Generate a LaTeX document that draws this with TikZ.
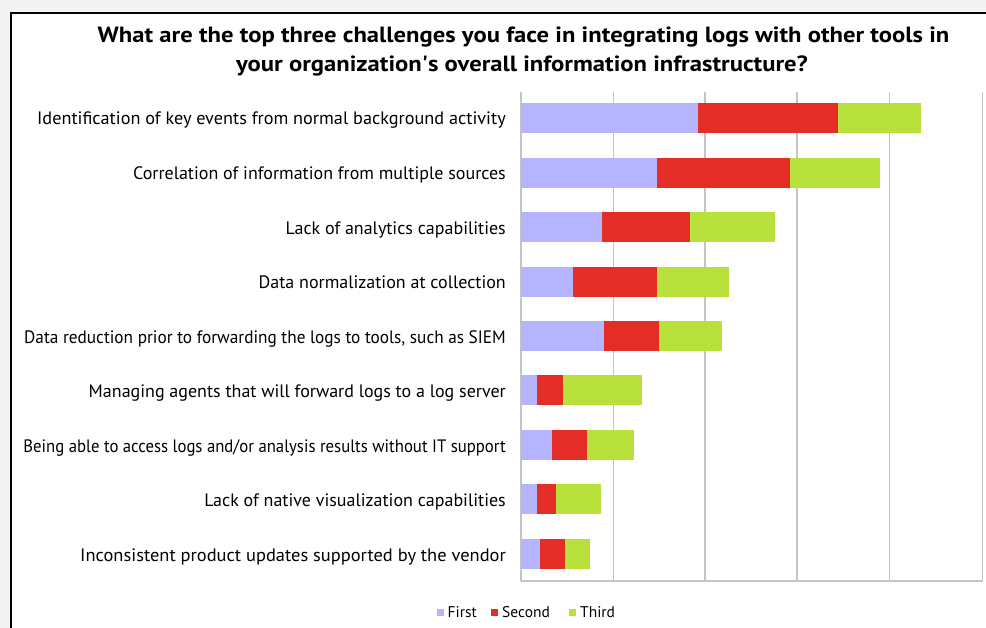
\documentclass[tikz,border=0pt]{standalone}
\usepackage{fontspec}
\setmainfont{PT Sans}
\definecolor{cfirst}{HTML}{B5B5FF}
\definecolor{csecond}{HTML}{E52D27}
\definecolor{cthird}{HTML}{B9E13B}
\definecolor{cgrid}{HTML}{C4C4C4}
\definecolor{cbg}{HTML}{F2F3F3}
\begin{document}
\begin{tikzpicture}[x=1pt,y=-1pt,
  lbl/.style={anchor=base east,inner sep=0pt,font=\fontsize{18}{20}\selectfont},
  ttl/.style={anchor=base,inner sep=0pt,font=\bfseries\fontsize{22}{26}\selectfont},
  grid/.style={draw=cgrid,line width=1.4pt},
  legsq/.style={inner sep=0pt,minimum size=7pt},
  legtx/.style={anchor=west,inner sep=0pt,font=\fontsize{15.5}{17}\selectfont}]
\useasboundingbox (0,0) rectangle (986,628);
\fill[cbg] (0,0) rectangle (986,628);
\fill[white] (11,13) rectangle (990,632);
\draw[black,line width=2.4pt] (11,640) -- (11,13) -- (995,13);
% title
\node[ttl] (title1) at (523.5,42.3) {\scalebox{1.12}[1]{What are the top three challenges you face in integrating logs with other tools in}};
\node[ttl] (title2) at (522,71.7) {\scalebox{1.12}[1]{your organization\textquotesingle s overall information infrastructure?}};
% grid
\foreach \gx in {521,613.3,705,797,889.3,982.5}{\draw[grid] (\gx,92) -- (\gx,581);}
\draw[grid] (521,581) -- (982.5,581);
% bars: y-center, first, second, third ends
\foreach \yc/\a/\b/\c in {117.7/698.3/838.3/920.7,
  172.7/657.3/790/880.3,
  227/602/690.3/775,
  281.7/572.7/656.7/729,
  336/604/659/721.5,
  390.5/537/563.3/641.7,
  445/552/587/634.3,
  499.2/537/555.7/601.3,
  554/539.7/565/590}{
  \fill[cfirst] (521,\yc-15) rectangle (\a,\yc+15);
  \fill[csecond] (\a,\yc-15) rectangle (\b,\yc+15);
  \fill[cthird] (\b,\yc-15) rectangle (\c,\yc+15);
}
% labels
\node[lbl] (l1) at (506,125) {\scalebox{1.013}[1]{Identification of key events from normal background activity}};
\node[lbl] (l2) at (506,180) {Correlation of information from multiple sources};
\node[lbl] (l3) at (506,234.3) {Lack of analytics capabilities};
\node[lbl] (l4) at (506,289) {Data normalization at collection};
\node[lbl] (l5) at (506,343.3) {\scalebox{0.958}[1]{Data reduction prior to forwarding the logs to tools, such as SIEM}};
\node[lbl] (l6) at (506,397.8) {Managing agents that will forward logs to a log server};
\node[lbl] (l7) at (506,452.3) {\scalebox{0.93}[1]{Being able to access logs and/or analysis results without IT support}};
\node[lbl] (l8) at (506,506.5) {Lack of native visualization capabilities};
\node[lbl] (l9) at (506,561.3) {\scalebox{1.024}[1]{Inconsistent product updates supported by the vendor}};
% legend
\node[legsq,fill=cfirst] (sq1) at (440.5,612.5) {};
\node[legtx] (t1) at (447.5,612) {First};
\node[legsq,fill=csecond] (sq2) at (494.5,612.5) {};
\node[legtx] (t2) at (502,612) {Second};
\node[legsq,fill=cthird] (sq3) at (572.5,612.5) {};
\node[legtx] (t3) at (580,612) {Third};
\end{tikzpicture}
\end{document}
